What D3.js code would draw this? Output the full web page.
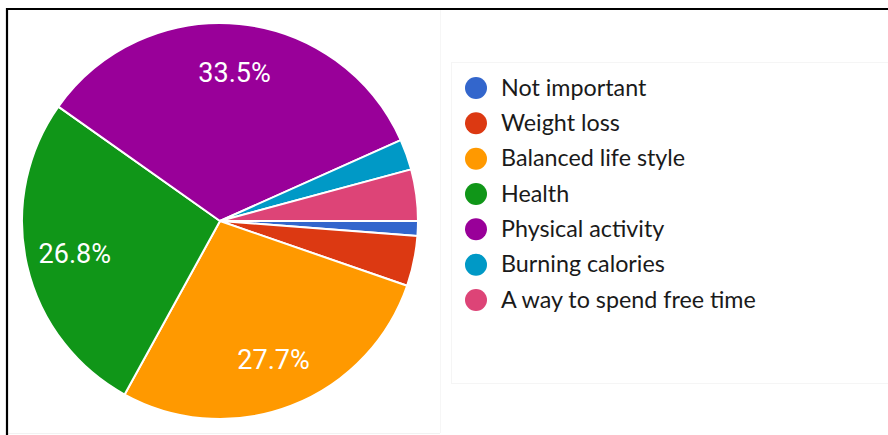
<!DOCTYPE html>
<html>
<head>
<meta charset="utf-8">
<script src="https://cdn.jsdelivr.net/npm/d3@7"></script>
<style>
  html, body { margin: 0; padding: 0; background: #fff; }
  svg { display: block; }
</style>
</head>
<body>
<svg id="chart" width="888" height="435"></svg>
<script>
// Reasons for exercising — share of responses (%)
const categories = [
  "Not important",
  "Weight loss",
  "Balanced life style",
  "Health",
  "Physical activity",
  "Burning calories",
  "A way to spend free time"
];
const shares = [1.2, 4.1, 27.7, 26.8, 33.5, 2.5, 4.2];
const sliceLabels = ["", "", "27.7%", "26.8%", "33.5%", "", ""];
const palette = ["#3366cc", "#dc3912", "#ff9900", "#109618", "#990099", "#0099c6", "#dd4477"];

const svg = d3.select("#chart");
const W = 888, H = 435;

svg.append("rect").attr("x", 0).attr("y", 0).attr("width", W).attr("height", H).attr("fill", "#fff");
// faint panel edges
svg.append("line").attr("x1", 440.5).attr("x2", 440.5).attr("y1", 10).attr("y2", 433)
  .attr("stroke", "#f6f6f6").attr("stroke-width", 1);
svg.append("line").attr("x1", 8).attr("x2", 440).attr("y1", 433.5).attr("y2", 433.5)
  .attr("stroke", "#f2f2f2").attr("stroke-width", 1);
svg.append("rect").attr("x", 451.5).attr("y", 62.5).attr("width", 440).attr("height", 321)
  .attr("fill", "none").attr("stroke", "#f5f5f5").attr("stroke-width", 1);

// black frame lines (top and left)
svg.append("line").attr("x1", 6).attr("x2", W).attr("y1", 9).attr("y2", 9)
  .attr("stroke", "#000").attr("stroke-width", 2.2);
svg.append("line").attr("x1", 7).attr("x2", 7).attr("y1", 8).attr("y2", H)
  .attr("stroke", "#000").attr("stroke-width", 2.2);

// pie
const cx = 220, cy = 221, R = 198;
const color = d3.scaleOrdinal().domain(categories).range(palette);
const pie = d3.pie().sort(null).value(d => d.value)
  .startAngle(Math.PI / 2).endAngle(Math.PI / 2 + 2 * Math.PI);
const data = categories.map((c, i) => ({ name: c, value: shares[i], label: sliceLabels[i] }));
const arcs = pie(data);
const arc = d3.arc().innerRadius(0).outerRadius(R);
const labelArc = d3.arc().innerRadius(149).outerRadius(149);

const g = svg.append("g").attr("transform", `translate(${cx},${cy})`);
g.selectAll("path.slice").data(arcs).join("path")
  .attr("class", "slice")
  .attr("d", arc)
  .attr("fill", d => color(d.data.name))
  .attr("stroke", "#fff")
  .attr("stroke-width", 2)
  .attr("stroke-linejoin", "round");

g.selectAll("text.pct").data(arcs.filter(d => d.data.label)).join("text")
  .attr("class", "pct")
  .attr("transform", d => `translate(${labelArc.centroid(d)})`)
  .attr("text-anchor", "middle")
  .attr("dominant-baseline", "central")
  .attr("font-family", "Roboto, 'Liberation Sans', Arial, sans-serif")
  .attr("font-size", 27)
  .attr("fill", "#fff")
  .text(d => d.data.label);

// legend
const legendY = d3.scalePoint().domain(categories).range([88, 300]);
const legend = svg.append("g");
const items = legend.selectAll("g.item").data(categories).join("g")
  .attr("class", "item")
  .attr("transform", d => `translate(0,${legendY(d)})`);
items.append("circle").attr("cx", 476).attr("cy", 0).attr("r", 11)
  .attr("fill", d => color(d));
items.append("text")
  .attr("x", 501)
  .attr("y", 0)
  .attr("dy", "0.33em")
  .attr("font-family", "Lato, 'Open Sans', sans-serif")
  .attr("font-size", 23.3)
  .attr("fill", "#1a1a1a")
  .text(d => d);
</script>
</body>
</html>
